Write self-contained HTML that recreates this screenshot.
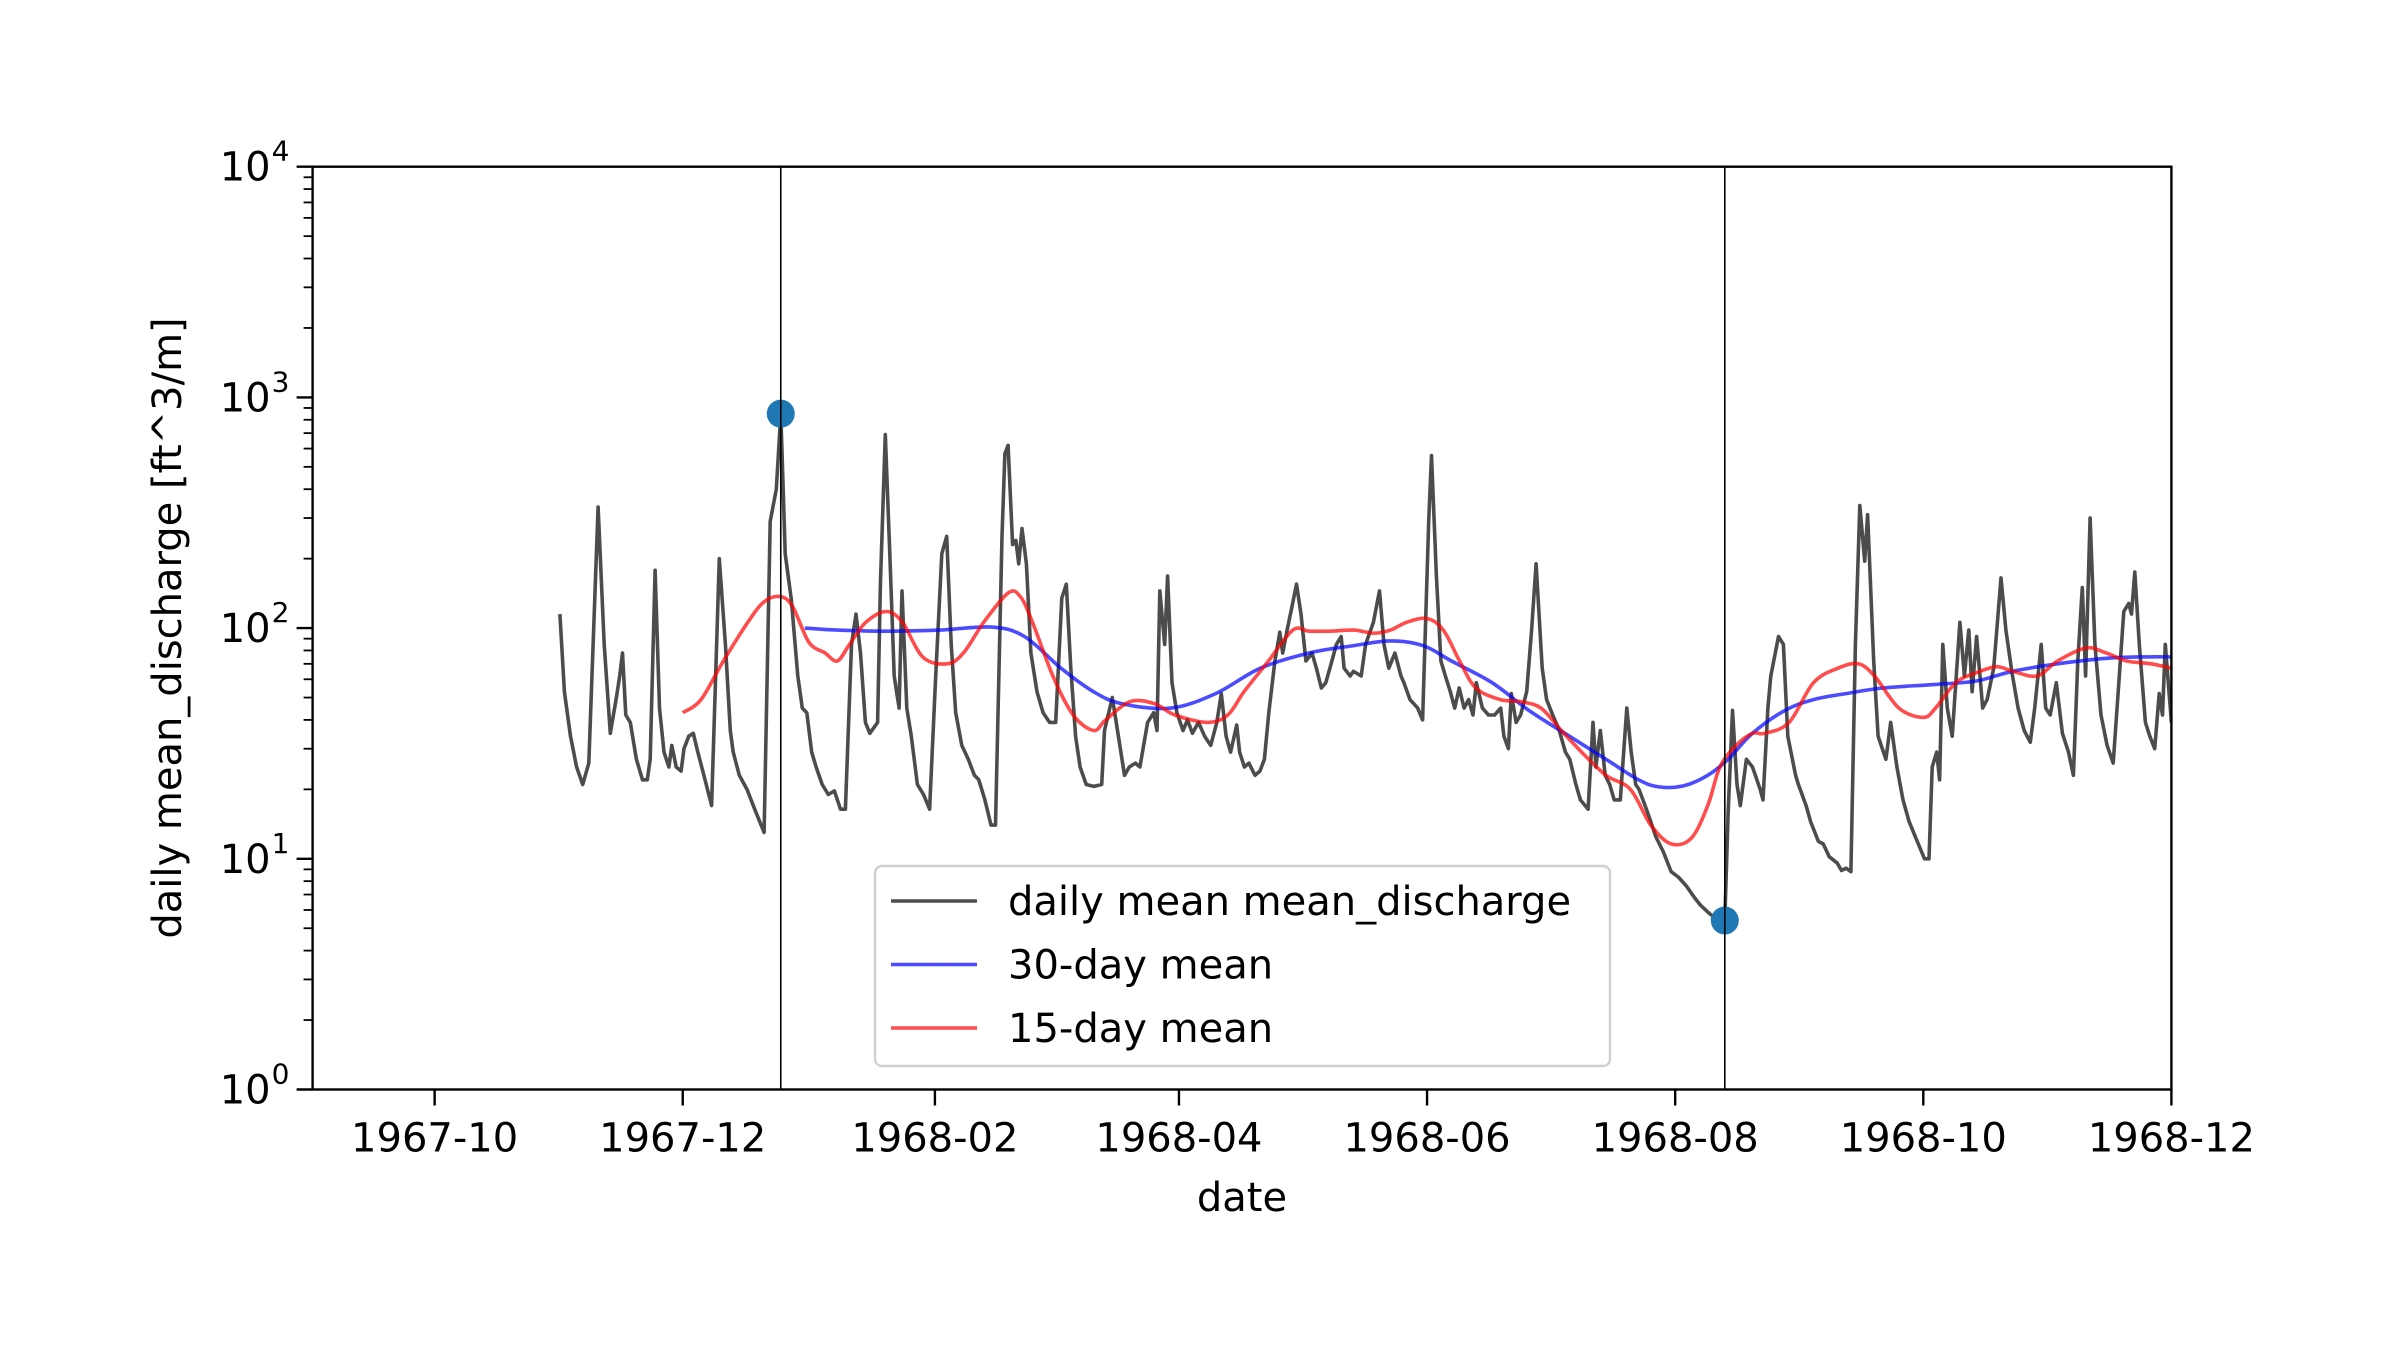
<!DOCTYPE html>
<html><head><meta charset="utf-8">
<style>
html,body{margin:0;padding:0;background:#fff;}
svg{display:block;font-family:"DejaVu Sans","Liberation Sans",sans-serif;}
</style></head>
<body>
<svg id="chart" width="2408" height="1370" viewBox="0 0 2408 1370" xmlns="http://www.w3.org/2000/svg">
<rect width="2408" height="1370" fill="#fff"/>
<g id="plot"></g>
</svg>
<script>
// Days since 1967-09-01
const dailyDays = [60.8,61.9,63.4,64.9,66.4,67.9,70.2,71.7,73.2,74.7,75.5,76.2,77.0,78.1,79.6,81.1,82.3,83.0,84.2,85.3,86.4,87.6,88.3,89.4,90.6,91.3,92.5,93.6,94.7,96.2,98.1,100.0,101.5,102.7,103.4,104.9,106.8,108.7,111.0,112.5,114.0,115.1,116.2,117.7,119.3,120.4,121.5,122.7,123.8,125.3,126.8,128.3,129.8,131.0,132.5,133.6,134.7,135.9,137.0,138.9,139.6,140.8,141.9,143.0,144.2,144.9,146.1,147.2,148.7,150.2,151.7,153.2,154.7,155.9,157.0,158.1,159.6,161.2,162.7,163.8,165.3,166.8,167.9,169.5,170.2,171.0,172.1,172.9,173.6,174.4,175.5,176.6,178.1,179.6,181.2,182.7,184.2,185.3,186.4,187.6,188.7,190.2,192.1,194.0,194.7,196.6,198.1,199.6,200.8,202.3,203.4,205.3,206.8,207.6,208.3,209.5,210.2,211.3,212.5,214.0,215.1,216.3,217.8,219.3,220.8,222.3,223.4,224.6,225.7,227.2,227.9,229.1,230.2,231.7,232.9,234.0,235.1,236.6,237.8,238.5,239.6,240.8,241.9,243.0,244.2,245.7,246.8,248.0,249.1,250.6,251.7,252.9,253.6,255.1,255.9,257.8,258.9,260.8,262.3,263.4,264.6,266.1,267.6,268.3,269.8,271.7,272.9,274.4,275.1,276.3,277.4,278.5,279.7,280.8,281.9,283.1,284.2,285.3,286.1,287.6,289.1,290.6,292.1,292.9,294.0,294.7,295.9,297.0,298.5,299.7,300.8,302.3,303.4,304.9,306.5,308.0,309.1,310.6,311.7,313.6,314.8,315.5,316.6,317.8,318.9,320.0,321.5,323.1,324.2,325.3,326.1,327.6,328.7,330.2,332.1,334.0,335.9,337.8,339.7,341.2,343.4,345.7,347.2,348.0,349.1,350.2,351.0,352.5,354.0,355.9,356.6,357.8,358.5,360.4,361.6,362.7,364.6,365.3,367.2,368.3,370.2,371.4,372.9,374.8,375.9,377.0,378.2,379.3,380.4,381.6,382.3,383.8,384.9,386.8,388.0,389.5,391.0,392.5,394.0,396.3,397.4,398.2,399.3,400.0,400.8,401.9,403.1,405.0,406.1,407.2,408.0,409.1,410.6,411.7,413.3,415.1,416.3,417.8,419.3,420.8,422.3,423.4,425.0,426.1,427.2,428.7,430.2,431.7,432.9,434.0,435.1,435.9,437.0,438.2,439.7,441.2,442.7,444.2,445.3,446.5,447.2,448.0,449.1,450.6,451.7,452.9,454.0,454.8,455.5,457.0];
const dailyValues = [115,53,34,25,21,26,335,85,35,50,62,78,42,39,27,22,22,27,178,45,29,25,31,25,24,30,34,35,29,23,17,200,85,36,29,23,20,16.4,13,290,400,850,210,133,62,45,43,29,25,21,19,19.7,16.4,16.4,85,115,78,39,35,39,155,690,210,62,45,145,45,34,21,19,16.4,62,210,250,85,43,31,27,23,22,18,14,14,250,570,620,230,240,190,270,190,78,53,43,39,39,135,155,67,34,25,21,20.6,21,36,50,34,23,25,26,25,39,43,36,145,85,168,58,43,36,40,35,39,34,31,39,52,34,29,38,29,25,26,23,24,27,43,72,96,78,98,124,155,115,72,78,67,55,58,72,85,92,67,62,65,62,85,106,145,85,67,78,62,58,49,45,40,290,560,168,72,62,53,45,55,45,49,42,58,45,42,42,45,34,30,52,39,42,53,98,190,67,49,42,36,29,27,21,18,16.4,39,25,36,23,21,18,18,45,29,21,20,17,15,12.5,10.7,8.8,8.3,7.6,6.8,6.3,5.8,5.4,5.4,15.7,44,21,17,27,25,20,18,45,62,92,85,34,23,21,17,14.5,11.9,11.6,10.2,9.6,8.9,9.1,8.8,85,340,195,310,72,34,27,39,25,18,14.5,12.5,10,10,25,29,22,85,45,34,106,62,98,53,92,45,49,67,165,98,64,45,36,32,45,85,45,42,58,35,29,23,72,150,62,300,85,42,31,26,62,118,128,115,175,85,39,34,30,52,42,85,39];
const mean15Days = [91,95.5,101,107,111,115,118,122,126,129,132,136,141,145,150,156,160,165,171,174,177,182,187,192,195,201,207,212,220,225,229,235,241,245,250,256,261,265,269,274,278,282,286,292,297,302,307,312,318,324,329,334,339,343,346,350,354,357,363,369,375,380,384,390,396,399,404,409,414,418,424,429,436,441,446,452,457];
const mean15Values = [43,49,72,106,130,137,124,87,78,72,85,106,118,106,75,70,78,106,142,137,106,62,42,36,40,48,47,42,39,42,53,72,98,97,97,98,95,98,106,110,98,72,55,49,48,45,36,29,23,20,14,11.6,12.3,17,25,31,35,35,39,58,67,70,62,45,41,45,58,64,68,65,62,72,82,78,72,70,67];
const mean30Days = [121,129,141,154,167,175,184,192,199,211,222,233,245,256,265,273,280,290,299,309,318,326,331,337,343,348,354,362,369,377,386,399,409,418,429,441,450,457];
const mean30Values = [100,98,97,98,101,92,67,53,47,45,52,67,78,84,88,84,72,58,44,34,27,22,20.5,20.7,23,27,35,44,49,52,55,57,59,65,70,74,75,75];
const extremeDays = [115.1,347.2];
const extremeValues = [850,5.4];
const xTickDays = [30,91,153,213,274,335,396,457];
const xTickLabels = ["1967-10","1967-12","1968-02","1968-04","1968-06","1968-08","1968-10","1968-12"];
const yTickExps = [0,1,2,3,4];

const L=312.6,R=2171.4,T=166.7,B=1089.5, DMIN=0, DMAX=457, EMIN=0, EMAX=4;
const NS="http://www.w3.org/2000/svg";
function xs(d){return L+(d-DMIN)/(DMAX-DMIN)*(R-L);}
function ys(v){return B-(Math.log10(v)-EMIN)/(EMAX-EMIN)*(B-T);}
const g=document.getElementById('plot');
function mk(tag,attrs,parent){const e=document.createElementNS(NS,tag);for(const k in attrs)e.setAttribute(k,attrs[k]);(parent||g).appendChild(e);return e;}
function pathFrom(ds,vs){return ds.map((d,i)=>(i?'L':'M')+xs(d).toFixed(1)+','+ys(vs[i]).toFixed(1)).join(' ');}
function smoothFrom(ds,vs){
  const P=ds.map((d,i)=>[xs(d),ys(vs[i])]);
  let s='M'+P[0][0].toFixed(1)+','+P[0][1].toFixed(1);
  for(let i=0;i<P.length-1;i++){
    const p0=P[Math.max(0,i-1)],p1=P[i],p2=P[i+1],p3=P[Math.min(P.length-1,i+2)];
    const c1=[p1[0]+(p2[0]-p0[0])/6,p1[1]+(p2[1]-p0[1])/6];
    const c2=[p2[0]-(p3[0]-p1[0])/6,p2[1]-(p3[1]-p1[1])/6];
    s+=' C'+c1[0].toFixed(1)+','+c1[1].toFixed(1)+' '+c2[0].toFixed(1)+','+c2[1].toFixed(1)+' '+p2[0].toFixed(1)+','+p2[1].toFixed(1);
  }
  return s;
}

const defs=mk('defs',{});
const cp=mk('clipPath',{id:'clip'},defs);
mk('rect',{x:L,y:T,width:R-L,height:B-T},cp);
const dg=mk('g',{'clip-path':'url(#clip)'});

let p=mk('path',{d:pathFrom(dailyDays,dailyValues),fill:'none',stroke:'#000','stroke-opacity':0.7,'stroke-width':3.6,'stroke-linejoin':'round'},dg);


p=mk('path',{d:smoothFrom(mean30Days,mean30Values),fill:'none',stroke:'#0000ff','stroke-opacity':0.7,'stroke-width':3.6},dg);


p=mk('path',{d:smoothFrom(mean15Days,mean15Values),fill:'none',stroke:'#ff0000','stroke-opacity':0.7,'stroke-width':3.6},dg);



extremeDays.forEach((d,i)=>{
  const c=mk('circle',{cx:xs(d),cy:ys(extremeValues[i]),r:14,fill:'#1f77b4'},dg);
  
  
  const l=mk('line',{x1:xs(d),x2:xs(d),y1:T,y2:B,stroke:'#000','stroke-width':1.6});
  
  
});

const fr=mk('rect',{x:L,y:T,width:R-L,height:B-T,fill:'none',stroke:'#000','stroke-width':2.4});



xTickDays.forEach((d,i)=>{
  const x=xs(d);
  const t=mk('line',{x1:x,x2:x,y1:B,y2:B+16,stroke:'#000','stroke-width':2.4});
  
  
  const tx=mk('text',{x:x,y:B+62,'text-anchor':'middle','font-size':40,fill:'#000'});
  tx.textContent=xTickLabels[i];
  
  
});
yTickExps.forEach(e=>{
  const y=ys(Math.pow(10,e));
  const t=mk('line',{x1:L-16,x2:L,y1:y,y2:y,stroke:'#000','stroke-width':2.4});
  
  
  const tx=mk('text',{x:L-42,y:y+14,'text-anchor':'end','font-size':40,fill:'#000'});
  tx.textContent='10';
  
  
  const sp=mk('text',{x:L-41,y:y-6,'text-anchor':'start','font-size':28,fill:'#000'});
  sp.textContent=String(e);
  
  
  if(e<4){for(let k=2;k<=9;k++){
    const yy=ys(k*Math.pow(10,e));
    const m=mk('line',{x1:L-9,x2:L,y1:yy,y2:yy,stroke:'#000','stroke-width':1.8});
    
    
  }}
});
let t=mk('text',{x:1242,y:1211,'text-anchor':'middle','font-size':40,fill:'#000'});
t.textContent='date';


t=mk('text',{x:0,y:0,'text-anchor':'middle','font-size':40,fill:'#000',transform:'translate(181,628) rotate(-90)'});
t.textContent='daily mean_discharge [ft^3/m]';



const lg=mk('g',{});


mk('rect',{x:875,y:866,width:735,height:200,rx:7,fill:'#fff','fill-opacity':0.8,stroke:'#d0d0d0','stroke-width':2.4},lg);
const entries=[['daily mean mean_discharge','#000','legend-entry-daily'],['30-day mean','#0000ff','legend-entry-30-day'],['15-day mean','#ff0000','legend-entry-15-day']];
entries.forEach((en,i)=>{
  const y=901+i*63.5;
  const eg=mk('g',{},lg);
  
  
  mk('line',{x1:891,x2:977,y1:y,y2:y,stroke:en[1],'stroke-opacity':0.7,'stroke-width':3.6},eg);
  const tt=mk('text',{x:1008,y:y+14,'font-size':40,fill:'#000'},eg);
  tt.textContent=en[0];
});
</script>
</body></html>
